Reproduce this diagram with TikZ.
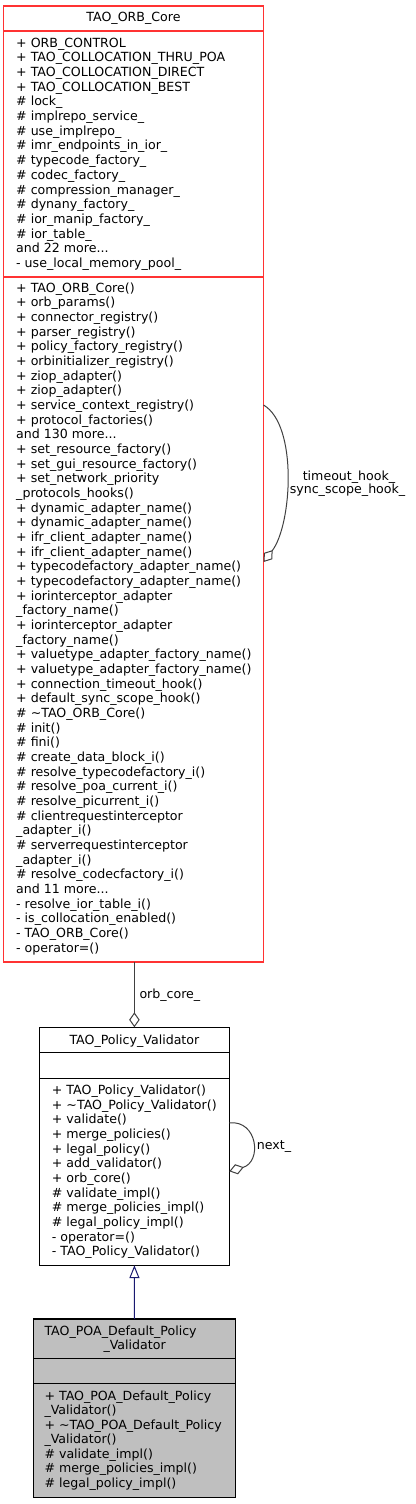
\documentclass[tikz,border=0pt]{standalone}
\usepackage{fontspec}
\setmainfont{DejaVu Sans}
\definecolor{edgegray}{RGB}{64, 64, 64}
\definecolor{inheritblue}{RGB}{25, 25, 112}
\definecolor{derivedgray}{RGB}{191, 191, 191}
\definecolor{focusred}{RGB}{255, 50, 50}
\usetikzlibrary{arrows.meta, calc}
\newcommand{\moredots}{...}

\tikzset{
  classbox/.style={draw, line width=1.2pt, inner sep=0pt, outer sep=0pt},
  focusbox/.style={classbox, draw=focusred, line width=1.8pt},
  member/.style={font=\fontsize{12.6}{14.67}\selectfont, inner sep=0pt, anchor=base west},
  aggr/.style={edgegray, line width=1pt, -{Diamond[open, length=15pt, width=10.5pt]}},
  inherit/.style={inheritblue, line width=1pt, -{Triangle[open, length=12.7pt, width=10pt]}},
}

\begin{document}
\begin{tikzpicture}[x=1pt, y=-1pt]
        \useasboundingbox (0,0) rectangle (415,1504);

        % TAO_ORB_Core
        \node[focusbox, minimum width=260pt, minimum height=955.7pt] (orbcore) at (133.5,483.85) {};
        \node[member, anchor=base] (orbtitle) at (133.5,22) {TAO\_ORB\_Core};
        \draw[focusred, line width=1.8pt] (orbcore.west |- 0,31.3) -- (orbcore.east |- 0,31.3);
        \draw[focusred, line width=1.8pt] (orbcore.west |- 0,276.7) -- (orbcore.east |- 0,276.7);
        \foreach \t [count=\i from 0] in {+ ORB\_CONTROL, + TAO\_COLLOCATION\_THRU\_POA,
            + TAO\_COLLOCATION\_DIRECT, + TAO\_COLLOCATION\_BEST, \# lock\_,
            \# implrepo\_service\_, \# use\_implrepo\_, \# imr\_endpoints\_in\_ior\_,
            \# typecode\_factory\_, \# codec\_factory\_, \# compression\_manager\_,
            \# dynany\_factory\_, \# ior\_manip\_factory\_, \# ior\_table\_,
            and 22 more\moredots, - use\_local\_memory\_pool\_}{
          \node[member] (orbattr\i) at (16,{47.3+14.67*\i}) {\t};
        }
        \foreach \t [count=\i from 0] in {+ TAO\_ORB\_Core(), + orb\_params(),
            + connector\_registry(), + parser\_registry(), + policy\_factory\_registry(),
            + orbinitializer\_registry(), + ziop\_adapter(), + ziop\_adapter(),
            + service\_context\_registry(), + protocol\_factories(), and 130 more\moredots,
            + set\_resource\_factory(), + set\_gui\_resource\_factory(),
            + set\_network\_priority, \_protocols\_hooks(), + dynamic\_adapter\_name(),
            + dynamic\_adapter\_name(), + ifr\_client\_adapter\_name(),
            + ifr\_client\_adapter\_name(), + typecodefactory\_adapter\_name(),
            + typecodefactory\_adapter\_name(), + iorinterceptor\_adapter,
            \_factory\_name(), + iorinterceptor\_adapter, \_factory\_name(),
            + valuetype\_adapter\_factory\_name(), + valuetype\_adapter\_factory\_name(),
            + connection\_timeout\_hook(), + default\_sync\_scope\_hook(),
            \# \textasciitilde TAO\_ORB\_Core(), \# init(), \# fini(),
            \# create\_data\_block\_i(), \# resolve\_typecodefactory\_i(),
            \# resolve\_poa\_current\_i(), \# resolve\_picurrent\_i(),
            \# clientrequestinterceptor, \_adapter\_i(), \# serverrequestinterceptor,
            \_adapter\_i(), \# resolve\_codecfactory\_i(), and 11 more\moredots,
            - resolve\_ior\_table\_i(), - is\_collocation\_enabled(), - TAO\_ORB\_Core(),
            - operator=()}{
          \node[member] (orbop\i) at (16,{292.3+14.667*\i}) {\t};
        }

        % TAO_Policy_Validator
        \node[classbox, minimum width=189.8pt, minimum height=238pt] (policy) at (134.4,1146.3) {};
        \node[member, anchor=base] (policytitle) at (134.4,1044.5) {TAO\_Policy\_Validator};
        \draw[line width=1.2pt] (policy.west |- 0,1052.7) -- (policy.east |- 0,1052.7);
        \draw[line width=1.2pt] (policy.west |- 0,1078.7) -- (policy.east |- 0,1078.7);
        \foreach \t [count=\i from 0] in {+ TAO\_Policy\_Validator(),
            + \textasciitilde TAO\_Policy\_Validator(), + validate(), + merge\_policies(),
            + legal\_policy(), + add\_validator(), + orb\_core(), \# validate\_impl(),
            \# merge\_policies\_impl(), \# legal\_policy\_impl(), - operator=(),
            - TAO\_Policy\_Validator()}{
          \node[member] (policyop\i) at (51.7,{1094.7+14.64*\i}) {\t};
        }

        % TAO_POA_Default_Policy_Validator
        \node[classbox, fill=derivedgray, minimum width=202.4pt, minimum height=178.3pt] (poa) at (134.5,1408.2) {};
        \node[member] (poatitle) at (44.3,1335.5) {TAO\_POA\_Default\_Policy};
        \node[member] (poatitleb) at (103.3,1349.3) {\_Validator};
        \draw[line width=1.2pt] (poa.west |- 0,1358.7) -- (poa.east |- 0,1358.7);
        \draw[line width=1.2pt] (poa.west |- 0,1383.7) -- (poa.east |- 0,1383.7);
        \foreach \t [count=\i from 0] in {+ TAO\_POA\_Default\_Policy, \_Validator(),
            + \textasciitilde TAO\_POA\_Default\_Policy, \_Validator(),
            \# validate\_impl(), \# merge\_policies\_impl(), \# legal\_policy\_impl()}{
          \node[member] (poaop\i) at (44.3,{1400+14.55*\i}) {\t};
        }

        % Relations
        \draw[aggr] (orbcore.south -| policy.north) -- (policy.north);
        \node[member] (orbcorelabel) at (139.3,998) {orb\_core\_};
        \draw[aggr] ([yshift=-399pt]orbcore.north east)
          .. controls (298,425) and (292,525) .. ([yshift=-556pt]orbcore.north east);
        \node[member, anchor=base] (timeoutlabel) at (349,480) {timeout\_hook\_};
        \node[member, anchor=base] (synclabel) at (347.5,493.3) {sync\_scope\_hook\_};
        \draw[aggr] ([yshift=-95.5pt]policy.north east)
          .. controls (258,1120) and (262,1162) .. ([yshift=-144pt]policy.north east);
        \node[member] (nextlabel) at (256.7,1149) {next\_};
        \draw[inherit] (poa.north) -- (policy.south);
      \end{tikzpicture}
\end{document}
